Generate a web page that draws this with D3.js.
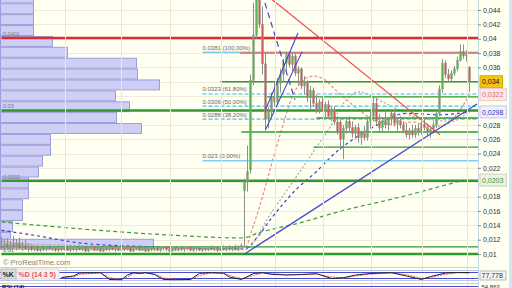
<!DOCTYPE html>
<html>
<head>
<meta charset="utf-8">
<script src="https://cdn.jsdelivr.net/npm/d3@7"></script>
<style>
  body { margin: 0; background: #fffff2; }
  svg { display: block; font-family: "Liberation Sans", Arial, sans-serif; }
</style>
</head>
<body>
<svg id="chart" width="512" height="288"></svg>
<script>
// candles before the breakout, [open, high, low, close]
const flatCandles = [
  [.0112,.0124,.0106,.0108],[.0108,.0121,.0105,.0114],[.0114,.0122,.0106,.0109],[.0109,.0118,.0104,.0113],
  [.0113,.0125,.0107,.0110],[.0110,.0121,.0105,.0115],[.0115,.0123,.0107,.0108],[.0108,.0117,.0104,.0112],
  [.0112,.0120,.0106,.0107],[.0107,.0115,.0103,.0111],[.0111,.0113,.0104,.0106],[.0106,.0111,.0104,.0110],
  [.0110,.0112,.0103,.0105],[.0105,.0110,.0103,.0109],[.0109,.0112,.0104,.0106],[.0106,.0111,.0104,.0110],
  [.0110,.0113,.0105,.0107],[.0107,.0110,.0104,.0109],[.0109,.0111,.0103,.0105],[.0105,.0110,.0103,.0108],
  [.0108,.0111,.0104,.0106],[.0106,.0112,.0105,.0110],[.0110,.0112,.0104,.0105],[.0105,.0109,.0103,.0108],
  [.0108,.0111,.0104,.0106],[.0106,.0110,.0103,.0109],[.0109,.0112,.0105,.0106],[.0106,.0111,.0104,.0110],
  [.0110,.0111,.0103,.0104],[.0104,.0109,.0103,.0108],[.0108,.0112,.0105,.0110],[.0110,.0111,.0104,.0105],
  [.0105,.0110,.0104,.0109],[.0109,.0110,.0103,.0104],[.0104,.0109,.0103,.0108],[.0108,.0111,.0104,.0106],
  [.0106,.0110,.0104,.0109],[.0109,.0112,.0105,.0106],[.0106,.0110,.0103,.0108],[.0108,.0110,.0104,.0105],
  [.0105,.0110,.0104,.0109],[.0109,.0111,.0104,.0106],[.0106,.0111,.0105,.0110],[.0110,.0111,.0103,.0104],
  [.0104,.0109,.0103,.0107],[.0107,.0111,.0105,.0110],[.0110,.0111,.0104,.0105],[.0105,.0110,.0104,.0108],
  [.0108,.0110,.0103,.0104],[.0104,.0109,.0103,.0108],[.0108,.0111,.0104,.0106],[.0106,.0110,.0104,.0109],
  [.0109,.0111,.0104,.0105],[.0105,.0110,.0103,.0108],[.0108,.0111,.0105,.0110],[.0110,.0111,.0104,.0106],
  [.0106,.0110,.0103,.0104],[.0104,.0109,.0103,.0108],[.0108,.0110,.0104,.0105],[.0105,.0110,.0104,.0109],
  [.0109,.0111,.0104,.0106],[.0106,.0110,.0103,.0108],[.0108,.0111,.0105,.0110],[.0110,.0111,.0104,.0105],
  [.0105,.0109,.0103,.0107],[.0107,.0110,.0104,.0109],[.0109,.0111,.0104,.0105],[.0105,.0110,.0103,.0108],
  [.0108,.0111,.0104,.0106],[.0106,.0110,.0104,.0109],[.0109,.0112,.0105,.0106],[.0106,.0111,.0104,.0110],
  [.0110,.0111,.0103,.0105],[.0105,.0110,.0104,.0108],[.0108,.0112,.0105,.0106],[.0106,.0111,.0104,.0109],
  [.0109,.0112,.0105,.0107],[.0107,.0111,.0104,.0110],[.0110,.0113,.0105,.0106],[.0106,.0112,.0104,.0111],
  [.0111,.0115,.0106,.0112]
];

// breakout and after
const rallyCandles = [
  [.0188,.0205,.0110,.0200],[.0200,.0251,.0187,.0215],[.0217,.0350,.0212,.0342],[.0342,.0450,.0335,.0405],
  [.0405,.0470,.0400,.0455],[.0455,.0470,.0415,.0420],[.0420,.0445,.0350,.0365],[.0365,.0380,.0272,.0288],
  [.0288,.0305,.0275,.0298],[.0298,.0325,.0290,.0318],[.0318,.0340,.0305,.0312],[.0312,.0345,.0308,.0338],
  [.0338,.0358,.0325,.0350],[.0350,.0372,.0340,.0366],[.0366,.0382,.0355,.0378],[.0378,.0382,.0360,.0364],
  [.0364,.0380,.0355,.0376],[.0376,.0380,.0348,.0352],[.0352,.0362,.0335,.0358],[.0358,.0360,.0330,.0334],
  [.0334,.0348,.0322,.0340],[.0340,.0342,.0312,.0318],[.0318,.0334,.0302,.0328],[.0328,.0332,.0305,.0310],
  [.0310,.0322,.0296,.0302],[.0302,.0316,.0296,.0312],[.0312,.0318,.0298,.0300],[.0300,.0312,.0290,.0308],
  [.0308,.0314,.0288,.0292],[.0292,.0305,.0285,.0300],[.0300,.0306,.0280,.0284],[.0284,.0292,.0266,.0270],
  [.0284,.0288,.0245,.0260],[.0260,.0280,.0232,.0275],[.0275,.0290,.0268,.0285],[.0285,.0292,.0270,.0276],
  [.0276,.0285,.0262,.0268],[.0268,.0280,.0260,.0276],[.0276,.0282,.0255,.0262],[.0262,.0272,.0252,.0268],
  [.0268,.0278,.0258,.0262],[.0262,.0290,.0258,.0285],[.0285,.0300,.0275,.0292],[.0292,.0318,.0285,.0310],
  [.0310,.0318,.0280,.0285],[.0285,.0295,.0270,.0276],[.0276,.0290,.0270,.0286],[.0286,.0300,.0275,.0280],
  [.0280,.0290,.0272,.0288],[.0288,.0300,.0280,.0296],[.0296,.0302,.0278,.0282],[.0282,.0290,.0272,.0286],
  [.0286,.0292,.0275,.0280],[.0280,.0285,.0268,.0272],[.0272,.0282,.0262,.0266],[.0266,.0276,.0260,.0272],
  [.0272,.0280,.0262,.0266],[.0266,.0280,.0262,.0275],[.0275,.0282,.0265,.0270],[.0270,.0285,.0266,.0280],
  [.0280,.0290,.0272,.0276],[.0276,.0282,.0265,.0270],[.0270,.0278,.0262,.0274],[.0274,.0285,.0268,.0280],
  [.0280,.0300,.0276,.0296],[.0296,.0335,.0292,.0330],[.0330,.0372,.0325,.0366],[.0366,.0370,.0345,.0350],
  [.0350,.0358,.0340,.0344],[.0344,.0356,.0340,.0352],[.0352,.0362,.0348,.0358],[.0358,.0375,.0355,.0370],
  [.0370,.0392,.0368,.0382],[.0382,.0392,.0372,.0376],[.0376,.0384,.0368,.0380],[.0360,.0362,.0326,.0340]
];

// volume by price (left histogram): lower edge of each bin and relative volume
const profileStep = 0.00152;
const profileLow = [.04493,.04341,.04190,.04038,.03886,.03735,.03583,.03431,.03280,.03128,.02976,.02825,
                    .02673,.02521,.02370,.02218,.02066,.01915,.01763,.01611,.01460,.01308,.01156,.01060];
const profileVol = [33,33,33,33,52,67,136,137,159,115,129,116,141,50,50,42,38,28,28,22,22,12,10,153];

// horizontal levels
const redLevels = [0.0401, 0.038];
const redFrom = [0, 79.5];
const greenLevels = [0.034, 0.0319, 0.03, 0.02895, 0.027, 0.0249, 0.0202, 0.011, 0.01];
const greenFrom = [73, 88.5, 0, 105, 80, 104, 0, 0, 0];
const labelledLevels = [0.0401, 0.03, 0.0202, 0.01];
const labelledText = ["0.0401", "0.03", "0.0202", "0.01"];

// fibonacci retracement
const fibPrices = [0.0381, 0.0323, 0.0306, 0.0288, 0.023];
const fibLabels = ["0.0381 (100,00%)", "0.0323 (61,80%)", "0.0306 (50,00%)", "0.0288 (38,20%)", "0.023 (0,00%)"];
const fibFrom = 67;

// moving averages read at a few bars
const ma20Idx = [0, 10, 20, 81, 84, 87, 90, 93, 97, 100, 104, 108, 111, 115, 120, 125, 131, 137, 143, 148, 152, 156];
const ma20Val = [.0118,.0112,.0108,.0108,.0140,.0180,.0225,.0268,.0320,.0340,.0348,.0342,.0330,.0315,.0298,.0285,.0280,.0284,.0278,.0280,.0296,.0322];
const ma30Idx = [0, 40, 81, 90, 96, 100, 105, 109, 114, 119, 127, 139, 150, 156];
const ma30Val = [.0115,.0110,.0106,.0158,.0194,.0218,.0249,.0273,.0310,.0326,.0312,.0290,.0285,.0300];
const ma50Idx = [0, 11, 27, 50, 81, 85, 90, 98, 105, 111, 118, 124, 135, 146, 156];
const ma50Val = [.0133,.0126,.0115,.0110,.0107,.0122,.0150,.0189,.0215,.0240,.0262,.0277,.0296,.0294,.0298];
const ma200Idx = [0, 56, 80, 86, 100, 112, 133, 154];
const ma200Val = [.01446,.01265,.01223,.0130,.0144,.01585,.01794,.0203];

// drawn trend lines, [bar, price]
const redTrend = [[88, 0.0462], [146.2, 0.0266]];
const blueTrend = [[81, 0.0100], [158.5, 0.0309]];
const channelA = [[88, 0.0301], [98.8, 0.0408]];
const channelB = [[88, 0.0273], [100.2, 0.0382]];
const dashTrend = [[87.8, 0.0450], [97.8, 0.0315]];

// axis
const axisTicks = [0.044, 0.042, 0.04, 0.038, 0.036, 0.028, 0.026, 0.024, 0.022, 0.018, 0.016, 0.014, 0.012, 0.01];
const tagValues = [0.034, 0.0322, 0.0298, 0.0203];
const tagLabels = ["0,034", "0,0322", "0,0298", "0,0203"];
const monthStarts = [21, 40, 56, 73, 91, 107, 123, 140, 155];

// stochastic %K %D (14 3 5)
const stochIdx = [20, 24, 26, 33, 36, 40, 42, 44, 46, 48, 51, 54, 58, 63, 66, 70, 74, 76, 80, 84, 87, 90, 95, 100, 105, 110, 114, 118, 123, 130, 135, 140, 143, 148, 152, 156];
const stochK = [30, 45, 75, 78, 10, 8, 55, 78, 70, 78, 60, 10, 8, 10, 72, 78, 72, 35, 10, 70, 78, 62, 55, 60, 68, 20, 28, 55, 70, 78, 45, 10, 40, 75, 80, 78];
const stochD = [28, 35, 62, 76, 30, 10, 35, 68, 74, 75, 68, 25, 10, 9, 50, 76, 75, 50, 20, 50, 74, 68, 58, 58, 65, 35, 25, 45, 65, 76, 58, 22, 30, 62, 78, 77];

const candles = flatCandles.concat(rallyCandles);
const N = candles.length;

const plotRight = 478;
const x = d3.scaleLinear().domain([0, N - 1]).range([1.5, 1.5 + 3 * (N - 1)]);
const y = d3.scaleLinear().domain([0.01, 0.044]).range([254, 10]);
const kY = d3.scaleLinear().domain([0, 100]).range([280.5, 270.5]);
const volX = d3.scaleLinear().domain([0, 160]).range([0, 160]);

const svg = d3.select("#chart");
const defs = svg.append("defs");
defs.append("clipPath").attr("id", "clipPrice")
  .append("rect").attr("width", plotRight).attr("height", 266);
defs.append("clipPath").attr("id", "clipStoch")
  .append("rect").attr("y", 267).attr("width", plotRight).attr("height", 16);

svg.append("rect").attr("width", 512).attr("height", 288).attr("fill", "#fffff2");

const price = svg.append("g").attr("clip-path", "url(#clipPrice)");

// grid
price.selectAll(".hg").data(d3.range(0, 18).map((i) => 0.01 + i * 0.002)).join("line")
  .attr("x1", 0).attr("x2", plotRight)
  .attr("y1", (d) => Math.round(y(d)) + 0.5).attr("y2", (d) => Math.round(y(d)) + 0.5)
  .attr("stroke", "#eeecd8");
svg.selectAll(".vg").data(monthStarts).join("line")
  .attr("x1", (d) => Math.round(x(d)) + 0.5).attr("x2", (d) => Math.round(x(d)) + 0.5)
  .attr("y1", 0).attr("y2", 288)
  .attr("stroke", "#ebe8d2");

// volume profile
price.selectAll(".vp").data(profileLow).join("rect")
  .attr("x", 0.5)
  .attr("y", (d) => y(d + profileStep) + 0.5)
  .attr("width", (d, i) => volX(profileVol[i]))
  .attr("height", (d) => y(d) - y(d + profileStep) - 1)
  .attr("fill", "#cfcff5")
  .attr("stroke", "#9d9ddb")
  .attr("stroke-width", 1);

// moving averages
const maLine = d3.line().x((d) => x(d[0])).y((d) => y(d[1])).curve(d3.curveMonotoneX);
price.append("path").datum(d3.zip(ma200Idx, ma200Val)).attr("d", maLine)
  .attr("fill", "none").attr("stroke", "#3f9a3f").attr("stroke-width", 1.2).attr("stroke-dasharray", "4,3");
price.append("path").datum(d3.zip(ma50Idx, ma50Val)).attr("d", maLine)
  .attr("fill", "none").attr("stroke", "#3b3be0").attr("stroke-width", 1.2).attr("stroke-dasharray", "3,3");
price.append("path").datum(d3.zip(ma30Idx, ma30Val)).attr("d", maLine)
  .attr("fill", "none").attr("stroke", "#a8a8a8").attr("stroke-width", 1.2).attr("stroke-dasharray", "2,2");
price.append("path").datum(d3.zip(ma20Idx, ma20Val)).attr("d", maLine)
  .attr("fill", "none").attr("stroke", "#f08a8a").attr("stroke-width", 1.2).attr("stroke-dasharray", "3,2");

// fibonacci levels
price.selectAll(".fib").data(fibPrices).join("line")
  .attr("x1", x(fibFrom)).attr("x2", plotRight)
  .attr("y1", (d) => y(d)).attr("y2", (d) => y(d))
  .attr("stroke", "#7fd0f0").attr("stroke-width", 1.6)
  .attr("stroke-dasharray", (d, i) => (i === 0 || i === fibPrices.length - 1 ? null : "4,2"));
price.selectAll(".fibl").data(fibPrices).join("text")
  .attr("x", x(fibFrom)).attr("y", (d) => y(d) - 2.5)
  .attr("font-size", 6).attr("fill", "#666")
  .text((d, i) => fibLabels[i]);

// horizontal support / resistance
const thick = (d) => labelledLevels.includes(d);
price.selectAll(".red").data(redLevels).join("line")
  .attr("x1", (d, i) => x(redFrom[i])).attr("x2", plotRight)
  .attr("y1", (d) => y(d)).attr("y2", (d) => y(d))
  .attr("stroke", (d) => (thick(d) ? "#d83030" : "#f06060"))
  .attr("stroke-width", (d) => (thick(d) ? 2.4 : 1.6));
price.selectAll(".green").data(greenLevels).join("line")
  .attr("x1", (d, i) => x(greenFrom[i])).attr("x2", plotRight)
  .attr("y1", (d) => y(d)).attr("y2", (d) => y(d))
  .attr("stroke", "#2f9a2f")
  .attr("stroke-width", (d) => (thick(d) ? 2.4 : 1.3));
price.selectAll(".lvl").data(labelledLevels).join("text")
  .attr("x", 3).attr("y", (d) => y(d) - 2)
  .attr("font-size", 5.5).attr("fill", "#777")
  .text((d, i) => labelledText[i]);

// candles
const c = price.append("g").selectAll("g").data(candles).join("g");
c.append("line")
  .attr("x1", (d, i) => x(i)).attr("x2", (d, i) => x(i))
  .attr("y1", (d) => y(d[1])).attr("y2", (d) => y(d[2]))
  .attr("stroke", "#8f8f8f").attr("stroke-width", 1);
c.append("rect")
  .attr("x", (d, i) => x(i) - 1)
  .attr("width", 2)
  .attr("y", (d) => y(Math.max(d[0], d[3])))
  .attr("height", (d) => Math.max(1, Math.abs(y(d[0]) - y(d[3]))))
  .attr("fill", (d) => (d[3] >= d[0] ? "#5cb34e" : "#cf5a55"))
  .attr("stroke", "#9a9a9a").attr("stroke-width", 0.4);

// trend lines
const seg = d3.line().x((d) => x(d[0])).y((d) => y(d[1]));
price.append("path").datum(redTrend).attr("d", seg)
  .attr("stroke", "#f04848").attr("stroke-width", 1.2).attr("fill", "none");
price.append("path").datum(blueTrend).attr("d", seg)
  .attr("stroke", "#4a4ad0").attr("stroke-width", 1.3).attr("fill", "none");
[channelA, channelB].forEach((ln) => {
  price.append("path").datum(ln).attr("d", seg)
    .attr("stroke", "#4545cc").attr("stroke-width", 1.1).attr("fill", "none");
});
price.append("path").datum(dashTrend).attr("d", seg)
  .attr("stroke", "#4545cc").attr("stroke-width", 1.2).attr("stroke-dasharray", "6,4").attr("fill", "none");

// watermark
svg.append("text").attr("x", 3).attr("y", 264.5)
  .attr("font-size", 7.5).attr("fill", "#858585")
  .text("\u00a9 ProRealTime.com");

// right price axis
svg.append("line").attr("x1", plotRight + 0.5).attr("x2", plotRight + 0.5)
  .attr("y1", 0).attr("y2", 288).attr("stroke", "#c3d6e2");
const axis = svg.append("g").attr("transform", `translate(${plotRight},0)`)
  .call(d3.axisRight(y).tickValues(axisTicks).tickSize(3).tickPadding(2)
    .tickFormat((d) => String(d).replace(".", ",")));
axis.select(".domain").remove();
axis.selectAll("line").attr("stroke", "#888");
axis.selectAll("text").attr("font-size", 7).attr("fill", "#333").attr("font-family", "Liberation Sans, Arial, sans-serif");

const tagStyle = [
  { bg: "#f2c418", fg: "#111", st: "#d8a800" },
  { bg: "#fbe9e9", fg: "#e06a6a", st: "#e8c8c8" },
  { bg: "#eef0fb", fg: "#3535c5", st: "#c8c8e0" },
  { bg: "#f0f2e8", fg: "#2f9a2f", st: "#c8d0c0" }
];
const tags = svg.selectAll(".tag").data(tagValues).join("g")
  .attr("transform", (d) => `translate(${plotRight + 2},${y(d)})`);
tags.append("rect").attr("x", 0).attr("y", -6).attr("height", 12)
  .attr("width", (d, i) => tagLabels[i].length * 3.9 + 3)
  .attr("fill", (d, i) => tagStyle[i].bg).attr("stroke", (d, i) => tagStyle[i].st);
tags.append("text").attr("x", 2).attr("y", 2.6).attr("font-size", 7)
  .attr("fill", (d, i) => tagStyle[i].fg)
  .text((d, i) => tagLabels[i]);

svg.append("rect").attr("x", 509).attr("y", 0).attr("width", 3).attr("height", 288).attr("fill", "#cfe6f4");

// stochastic panel
svg.append("line").attr("x1", 0).attr("x2", plotRight).attr("y1", 267.5).attr("y2", 267.5).attr("stroke", "#cfcfcf");
const st = svg.append("g").attr("clip-path", "url(#clipStoch)");
[100, 0].forEach((v) => {
  st.append("line").attr("x1", 0).attr("x2", plotRight).attr("y1", kY(v)).attr("y2", kY(v)).attr("stroke", "#b9c4ec");
});
[80, 20].forEach((v) => {
  st.append("line").attr("x1", 0).attr("x2", plotRight).attr("y1", kY(v)).attr("y2", kY(v)).attr("stroke", "#4a4ad0");
});
const kLine = d3.line().x((d) => x(d[0])).y((d) => kY(d[1]));
st.append("path").datum(d3.zip(stochIdx, stochD)).attr("d", kLine)
  .attr("fill", "none").attr("stroke", "#e86060").attr("stroke-width", 1).attr("stroke-dasharray", "2,1");
st.append("path").datum(d3.zip(stochIdx, stochK)).attr("d", kLine)
  .attr("fill", "none").attr("stroke", "#222").attr("stroke-width", 1);

svg.append("rect").attr("x", 1).attr("y", 269).attr("width", 15).attr("height", 10).attr("fill", "#dcdcdc").attr("stroke", "#bbb");
svg.append("text").attr("x", 2.5).attr("y", 276.5).attr("font-size", 7).attr("font-weight", "bold").attr("fill", "#222").text("%K");
svg.append("rect").attr("x", 17).attr("y", 269).attr("width", 42).attr("height", 10).attr("fill", "#fbeeee").attr("stroke", "#ddd");
svg.append("text").attr("x", 18.5).attr("y", 276.5).attr("font-size", 7).attr("font-weight", "bold").attr("fill", "#e05a5a").text("%D (14 3 5)");

svg.append("rect").attr("x", 480).attr("y", 271).attr("width", 26).attr("height", 9).attr("fill", "#f4f4f0").attr("stroke", "#bbb");
svg.append("text").attr("x", 481.5).attr("y", 278).attr("font-size", 7).attr("fill", "#333").text("77,778");

// RSI panel (only its top edge is visible)
svg.append("line").attr("x1", 0).attr("x2", plotRight).attr("y1", 283.5).attr("y2", 283.5).attr("stroke", "#cfcfcf");
svg.append("line").attr("x1", 0).attr("x2", plotRight).attr("y1", 286.5).attr("y2", 286.5).attr("stroke", "#4a4ad0");
svg.append("text").attr("x", 2).attr("y", 288.5).attr("font-size", 6).attr("font-weight", "bold").attr("fill", "#222").text("RSI (14)");
svg.append("text").attr("x", 481.5).attr("y", 288.5).attr("font-size", 6).attr("fill", "#333").text("54,863");
</script>
</body>
</html>
